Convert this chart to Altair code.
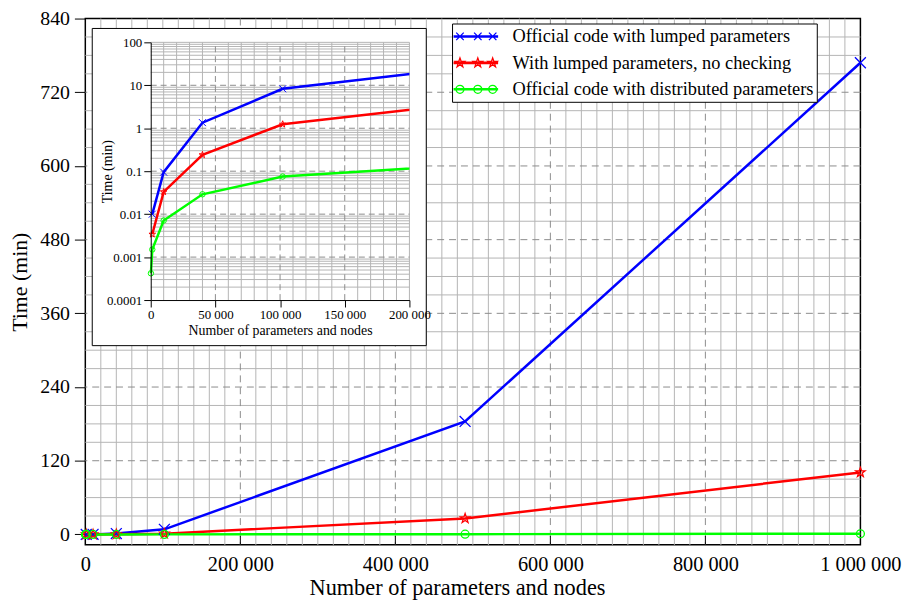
import math
import altair as alt
import pandas as pd

FONT = "Liberation Serif"

# ---------------- data ----------------
series_names = [
    "Official code with lumped parameters",
    "With lumped parameters, no checking",
    "Official code with distributed parameters",
]
series_colors = ["#0000ff", "#ff0000", "#00ff00"]

lumped_n = [1200, 10000, 40000, 102000, 490000, 1000000]
lumped_t = [0.0100, 0.095, 1.35, 8.3, 184, 768]
nocheck_n = [1200, 10000, 40000, 102000, 490000, 1000000]
nocheck_t = [0.0034, 0.033, 0.24, 1.24, 26, 101]
distrib_n = [150, 1200, 10000, 40000, 102000, 490000, 1000000]
distrib_t = [0.00042, 0.0015, 0.0071, 0.029, 0.075, 0.42, 1.1]

main_x_ticks = [0, 200000, 400000, 600000, 800000, 1000000]
main_y_ticks = [0, 120, 240, 360, 480, 600, 720, 840]
inset_x_ticks = [0, 50000, 100000, 150000, 200000]
inset_y_ticks = [0.0001, 0.001, 0.01, 0.1, 1, 10, 100]

rows = []
for name, ns, ts in zip(series_names, [lumped_n, nocheck_n, distrib_n],
                        [lumped_t, nocheck_t, distrib_t]):
    for n, t in zip(ns, ts):
        rows.append({"series": name, "n": n, "t": t})
df = pd.DataFrame(rows)

# grid positions (derived from the tick steps)
main_x_minor = [v for v in range(20000, 1000000, 20000) if v % 200000 != 0]
main_x_major = main_x_ticks[1:-1]
main_y_minor = [v for v in range(30, 840, 30) if v % 120 != 0]
main_y_major = main_y_ticks[1:-1]
inset_x_minor = [v for v in range(10000, 200001, 10000) if v % 50000 != 0] + [200000]
inset_x_major = [50000, 100000, 150000]
inset_y_minor = [m * 10.0 ** e for e in range(-4, 2) for m in range(2, 10)] + [100]
inset_y_major = [0.001, 0.01, 0.1, 1, 10]

# ---------------- styles ----------------
MW, MH = 782, 531
IW, IH = 327, 260
INSET_X0 = 66
SPACE_FMT = "replace(format(datum.value, ','), regexp(',', 'g'), ' ')"
MINOR_C = "#b4b4b4"
MAJOR_C = "#8c8c8c"


def cross_path(cx, cy, h):
    return (f"M{cx-h:.3f},{cy-h:.3f}L{cx+h:.3f},{cy+h:.3f}"
            f"M{cx-h:.3f},{cy+h:.3f}L{cx+h:.3f},{cy-h:.3f}")


def star_path(cx, cy, r, ri=0.4):
    pts = []
    for k in range(10):
        ang = math.radians(-90 + 36 * k)
        rr = r if k % 2 == 0 else r * ri
        pts.append((cx + rr * math.cos(ang), cy + rr * math.sin(ang)))
    return "M" + "L".join(f"{x:.3f},{y:.3f}" for x, y in pts) + "Z"


def circle_path(cx, cy, r):
    return (f"M{cx-r:.3f},{cy:.3f}A{r:.3f},{r:.3f} 0 1,0 {cx+r:.3f},{cy:.3f}"
            f"A{r:.3f},{r:.3f} 0 1,0 {cx-r:.3f},{cy:.3f}Z")


X_SHAPE = cross_path(0, 0, 1)
STAR_SHAPE = star_path(0, 0, 1)

LEG_L, LEG_R = -1.278, 3.72
LEG_M = [-0.556, 1.444, 3.11]
leg_line = f"M{LEG_L},-0.07L{LEG_R},-0.07M{LEG_L},0.07L{LEG_R},0.07"
leg_x = leg_line + "".join(cross_path(m, 0, 0.42) for m in LEG_M)
leg_star = leg_line + "".join(star_path(m, 0, 0.55) for m in LEG_M)
leg_circ = leg_line + "".join(circle_path(m, 0, 0.45) for m in LEG_M)

legend_shape_expr = (
    f"datum.value === '{series_names[0]}' ? '{leg_x}' : "
    f"(datum.value === '{series_names[1]}' ? '{leg_star}' : '{leg_circ}')"
)

# ---------------- main chart ----------------
mx_scale = alt.Scale(domain=[0, 1000000], nice=False, zero=False)
my_scale = alt.Scale(domain=[-17, 840], nice=False, zero=False)

x_axis_main = alt.Axis(
    values=main_x_ticks, grid=False, domain=False, ticks=False,
    labelExpr=SPACE_FMT, labelFlush=False, labelOverlap=False,
    labelFont=FONT, labelFontSize=20.5, labelColor="black", labelPadding=10,
    title="Number of parameters and nodes", titleFont=FONT, titleFontSize=22.5,
    titleFontWeight="normal", titleColor="black", titlePadding=2, titleX=375,
)
y_axis_main = alt.Axis(
    values=main_y_ticks, grid=False, domain=False, ticks=True, tickSize=11,
    tickColor="black", tickWidth=1, labelFlush=False,
    labelFont=FONT, labelFontSize=20, labelColor="black", labelPadding=5,
    title="Time (min)", titleFont=FONT, titleFontSize=22,
    titleFontWeight="normal", titleColor="black", titleX=-66,
    titleBaseline="middle",
)

MX = lambda f: alt.X(f, scale=mx_scale, axis=x_axis_main)
MY = lambda f: alt.Y(f, scale=my_scale, axis=y_axis_main)


def vrules(vals, color, dash=None):
    kw = {"color": color, "strokeWidth": 1}
    if dash:
        kw["strokeDash"] = dash
    return alt.Chart(pd.DataFrame({"v": vals})).mark_rule(**kw).encode(x=MX("v:Q"))


def hrules(vals, color, dash=None):
    kw = {"color": color, "strokeWidth": 1}
    if dash:
        kw["strokeDash"] = dash
    return alt.Chart(pd.DataFrame({"v": vals})).mark_rule(**kw).encode(y=MY("v:Q"))


main_lines = alt.Chart(df).mark_line(strokeWidth=2.5).encode(
    x=MX("n:Q"),
    y=MY("t:Q"),
    color=alt.Color(
        "series:N",
        scale=alt.Scale(domain=series_names, range=series_colors),
        sort=series_names,
        title=None,
        legend=alt.Legend(
            orient="none", legendX=370, legendY=5, padding=3,
            strokeColor="black", fillColor="white", cornerRadius=0,
            labelFont=FONT, labelFontSize=18.5, labelColor="black",
            labelLimit=500, labelOffset=38, symbolSize=324,
            symbolStrokeWidth=1.3, symbolFillColor="transparent",
            rowPadding=6.7, symbolType=alt.ExprRef(expr=legend_shape_expr),
        ),
    ),
)


def main_points(i, shape, size):
    return alt.Chart(df).transform_filter(
        alt.datum.series == series_names[i]
    ).mark_point(shape=shape, size=size, filled=False, opacity=1,
                 strokeWidth=1.3, color=series_colors[i]).encode(
        x=MX("n:Q"), y=MY("t:Q"))


main_ticks = alt.Chart(pd.DataFrame({"v": main_x_ticks[1:-1]})).mark_rule(
    color="black", strokeWidth=1).encode(
    x=MX("v:Q"), y=alt.value(MH - 9), y2=alt.value(MH))

main = alt.layer(
    vrules(main_x_minor, MINOR_C),
    hrules(main_y_minor, MINOR_C),
    vrules(main_x_major, MAJOR_C, [7, 5]),
    hrules(main_y_major, MAJOR_C, [7, 5]),
    main_ticks,
    main_lines,
    main_points(0, X_SHAPE, 121),
    main_points(1, STAR_SHAPE, 100),
    main_points(2, "circle", 64),
).properties(width=MW, height=MH,
             view=alt.ViewBackground(stroke="black", strokeWidth=1.5))

# ---------------- inset ----------------
ix_scale = alt.Scale(domain=[0, 200000], range=[INSET_X0, IW], nice=False, zero=False)
iy_scale = alt.Scale(type="log", domain=[0.0001, 100], nice=False)

x_axis_inset = alt.Axis(
    values=inset_x_ticks, grid=False, domain=True, domainColor="black",
    ticks=True, tickSize=7, tickColor="black", labelExpr=SPACE_FMT,
    labelFlush=False, labelOverlap=False, zindex=2,
    labelFont=FONT, labelFontSize=13, labelColor="black", labelPadding=2,
    title="Number of parameters and nodes", titleFont=FONT, titleFontSize=14,
    titleFontWeight="normal", titleColor="black", titlePadding=2,
)
y_axis_inset = alt.Axis(
    values=inset_y_ticks, grid=False, domain=True, domainColor="black",
    ticks=True, tickSize=7, tickColor="black", offset=-INSET_X0, zindex=2,
    labelExpr="format(datum.value, '~g')", labelFlush=False,
    labelFont=FONT, labelFontSize=13, labelColor="black", labelPadding=2,
    title="Time (min)", titleFont=FONT, titleFontSize=14,
    titleFontWeight="normal", titleColor="black", titleX=-44,
    titleBaseline="middle",
)

IX = lambda f: alt.X(f, scale=ix_scale, axis=x_axis_inset)
IY = lambda f: alt.Y(f, scale=iy_scale, axis=y_axis_inset)

inset_bg = alt.Chart(pd.DataFrame({"k": [0]})).mark_rect(
    fill="white", stroke="black", strokeWidth=1).encode(
    x=alt.value(7), x2=alt.value(344), y=alt.value(-14), y2=alt.value(306))


def ivrules(vals, color, dash=None):
    kw = {"color": color, "strokeWidth": 1}
    if dash:
        kw["strokeDash"] = dash
    return alt.Chart(pd.DataFrame({"v": vals})).mark_rule(**kw).encode(
        x=IX("v:Q"),
        y=alt.YDatum(inset_y_ticks[0], scale=iy_scale, axis=y_axis_inset),
        y2=alt.Y2Datum(inset_y_ticks[-1]),
    )


def ihrules(vals, color, dash=None):
    kw = {"color": color, "strokeWidth": 1}
    if dash:
        kw["strokeDash"] = dash
    return alt.Chart(pd.DataFrame({"v": vals})).mark_rule(**kw).encode(
        y=IY("v:Q"),
        x=alt.XDatum(inset_x_ticks[0], scale=ix_scale, axis=x_axis_inset),
        x2=alt.X2Datum(inset_x_ticks[-1]),
    )


inset_lines = alt.Chart(df).mark_line(strokeWidth=2.5, clip=True).encode(
    x=IX("n:Q"),
    y=IY("t:Q"),
    color=alt.Color("series:N",
                    scale=alt.Scale(domain=series_names, range=series_colors),
                    legend=None),
)


def inset_points(i, shape, size):
    return alt.Chart(df).transform_filter(
        alt.datum.series == series_names[i]
    ).mark_point(shape=shape, size=size, filled=False, opacity=1, clip=True,
                 strokeWidth=1, color=series_colors[i]).encode(
        x=IX("n:Q"), y=IY("t:Q"))


inset = alt.layer(
    inset_bg,
    ivrules(inset_x_minor, MINOR_C),
    ihrules(inset_y_minor, MINOR_C),
    ivrules(inset_x_major, MAJOR_C, [6, 4]),
    ihrules(inset_y_major, MAJOR_C, [6, 4]),
    inset_lines,
    inset_points(0, X_SHAPE, 49),
    inset_points(1, STAR_SHAPE, 49),
    inset_points(2, "circle", 30),
).properties(width=IW, height=IH,
             view=alt.ViewBackground(stroke="transparent"))

chart = alt.concat(main, inset, columns=1, align="none", spacing=-578).resolve_scale(
    x="independent", y="independent", color="independent"
).resolve_legend(color="independent").properties(
    padding={"left": 0, "top": -3, "right": 4, "bottom": 0}
).configure(font=FONT).configure_view(stroke="transparent")

chart.save("out.html", embed_options={"renderer": "svg", "actions": False})
